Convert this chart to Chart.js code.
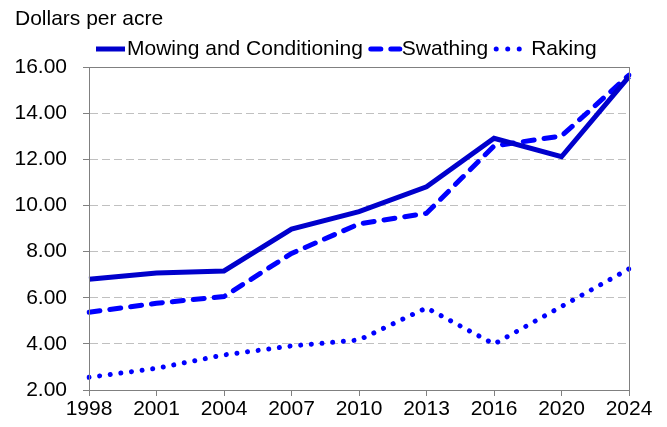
<!DOCTYPE html>
<html>
<head>
<meta charset="utf-8">
<script src="https://cdn.jsdelivr.net/npm/chart.js@4.4.1/dist/chart.umd.min.js"></script>
<style>
  html, body { margin: 0; padding: 0; background: #fff; }
  #wrap { width: 667px; height: 427px; }
</style>
</head>
<body>
<div id="wrap"><canvas id="costChart" width="667" height="427"></canvas></div>
<script>
// years on the x axis
const years = ['1998', '2001', '2004', '2007', '2010', '2013', '2016', '2020', '2024'];

// dollars per acre
const mowing   = [6.80, 7.07, 7.16, 8.97, 9.73, 10.81, 12.91, 12.11, 15.58];
const swathing = [5.37, 5.76, 6.05, 7.92, 9.20, 9.66, 12.58, 13.01, 15.65];
const raking   = [2.55, 2.94, 3.52, 3.91, 4.17, 5.56, 3.99, 5.62, 7.25];

const yTicks = [2, 4, 6, 8, 10, 12, 14, 16];

const FONT = "'Liberation Sans', Arial, sans-serif";

// title, legend and frame drawn by hand so the spacing matches
const decor = {
  id: 'decor',
  afterDraw(chart) {
    const ctx = chart.ctx;
    const a = chart.chartArea;
    ctx.save();
    // frame round the plot
    ctx.strokeStyle = '#808080';
    ctx.lineWidth = 1;
    ctx.setLineDash([]);
    ctx.strokeRect(a.left + 0.5, a.top + 0.5, a.right - a.left, a.bottom - a.top);

    // axis title
    ctx.fillStyle = '#000';
    ctx.font = '21px ' + FONT;
    ctx.textBaseline = 'middle';
    ctx.textAlign = 'left';
    ctx.fillText('Dollars per acre', 15, 19);

    // legend
    let x = 96;
    const y = 49;
    chart.data.datasets.forEach((ds, i) => {
      ctx.beginPath();
      ctx.strokeStyle = ds.borderColor;
      ctx.lineWidth = 5;
      ctx.lineCap = ds.borderCapStyle || 'butt';
      ctx.setLineDash(ds.legendDash || []);
      ctx.moveTo(x, y);
      ctx.lineTo(x + 29, y);
      ctx.stroke();
      ctx.setLineDash([]);
      x += 31 + (i === 2 ? 4 : 0);
      ctx.fillStyle = '#000';
      ctx.fillText(ds.label, x, y);
      x += ctx.measureText(ds.label).width + 8;
    });
    ctx.restore();
  }
};

const ctx = document.getElementById('costChart').getContext('2d');
const chart = new Chart(ctx, {
  type: 'line',
  data: {
    labels: years,
    datasets: [
      {
        label: 'Mowing and Conditioning',
        data: mowing,
        borderColor: '#0000CC',
        borderWidth: 5,
        borderCapStyle: 'butt',
        legendDash: []
      },
      {
        label: 'Swathing',
        data: swathing,
        borderColor: '#0000FF',
        borderWidth: 5,
        borderDash: [11, 10],
        borderCapStyle: 'round',
        legendDash: [10, 10]
      },
      {
        label: 'Raking',
        data: raking,
        borderColor: '#0000FF',
        borderWidth: 5,
        borderDash: [0.01, 10.7],
        borderCapStyle: 'round',
        legendDash: [0.01, 11.5]
      }
    ]
  },
  options: {
    responsive: false,
    animation: false,
    devicePixelRatio: 1,
    elements: {
      point: { radius: 0, hoverRadius: 0 },
      line: { tension: 0, fill: false }
    },
    layout: { padding: { top: 67, right: 38, bottom: 0, left: 0 } },
    plugins: {
      legend: { display: false },
      title: { display: false },
      tooltip: { enabled: false }
    },
    scales: {
      x: {
        type: 'category',
        offset: false,
        grid: {
          drawOnChartArea: false,
          drawTicks: true,
          tickLength: 6,
          tickColor: '#808080'
        },
        border: { display: true, color: '#808080' },
        ticks: {
          color: '#000',
          font: { family: FONT, size: 21 },
          padding: 1,
          maxRotation: 0,
          autoSkip: false
        },
        afterFit(scale) { scale.height = 37; }
      },
      y: {
        min: 2,
        max: 16,
        afterBuildTicks(scale) {
          scale.ticks = yTicks.map(v => ({ value: v }));
        },
        grid: {
          color: '#C0C0C0',
          lineWidth: 1,
          tickLength: 6,
          tickColor: '#808080',
          tickBorderDash: []
        },
        border: { display: true, color: '#808080', dash: [8, 4] },
        ticks: {
          color: '#000',
          font: { family: FONT, size: 21 },
          padding: 16,
          callback: v => v.toFixed(2)
        },
        afterFit(scale) { scale.width = 89; }
      }
    }
  },
  plugins: [decor]
});
</script>
</body>
</html>
